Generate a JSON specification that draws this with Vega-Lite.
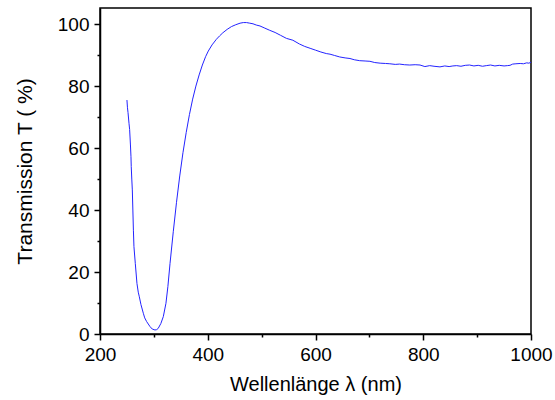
{
  "$schema": "https://vega.github.io/schema/vega-lite/v6.json",
  "width": 431,
  "height": 326,
  "autosize": {"type": "none"},
  "padding": {"left": 100, "top": 8, "right": 24, "bottom": 66},
  "background": "white",
  "config": {
    "view": {"stroke": "black", "strokeWidth": 1.5},
    "font": "Liberation Sans",
    "axis": {"grid": false, "domainColor": "black", "domainWidth": 1.5, "tickColor": "black", "tickWidth": 1.5, "labelColor": "black", "titleColor": "black", "labelFont": "Liberation Sans", "titleFont": "Liberation Sans", "titleFontWeight": "normal"}
  },
  "data": {"values": [
    {"wl": 250, "T": 75.5}, {"wl": 251, "T": 73}, {"wl": 252, "T": 71.5}, {"wl": 253.8, "T": 68}, {"wl": 255, "T": 66},
    {"wl": 256.5, "T": 61}, {"wl": 257.5, "T": 57.2}, {"wl": 258, "T": 54}, {"wl": 259, "T": 50}, {"wl": 260, "T": 46.5},
    {"wl": 261, "T": 40}, {"wl": 262, "T": 33.5}, {"wl": 263, "T": 28.2}, {"wl": 265.5, "T": 22.8}, {"wl": 268.6, "T": 16.3},
    {"wl": 271, "T": 13.5}, {"wl": 273, "T": 12}, {"wl": 276, "T": 9.5}, {"wl": 280.4, "T": 6.7}, {"wl": 283, "T": 5.2},
    {"wl": 286.6, "T": 4}, {"wl": 292.8, "T": 2.4}, {"wl": 297, "T": 1.6}, {"wl": 302, "T": 1.3}, {"wl": 305, "T": 1.4},
    {"wl": 308, "T": 1.8}, {"wl": 313, "T": 3.4}, {"wl": 317.5, "T": 5.6}, {"wl": 322.4, "T": 9.9}, {"wl": 326, "T": 15.3},
    {"wl": 330, "T": 22.8}, {"wl": 336, "T": 33}, {"wl": 342, "T": 42.5}, {"wl": 348, "T": 51}, {"wl": 354, "T": 58.5},
    {"wl": 360, "T": 65}, {"wl": 366, "T": 70.8}, {"wl": 372, "T": 75.8}, {"wl": 378, "T": 80}, {"wl": 384, "T": 83.6},
    {"wl": 390, "T": 86.8}, {"wl": 396, "T": 89.5}, {"wl": 401, "T": 91.3},
    {"wl": 408, "T": 93.3}, {"wl": 416, "T": 95.1}, {"wl": 422, "T": 96.2}, {"wl": 428, "T": 97.2}, {"wl": 436, "T": 98.3},
    {"wl": 444, "T": 99.2}, {"wl": 452, "T": 99.8}, {"wl": 460, "T": 100.3}, {"wl": 466, "T": 100.5}, {"wl": 472, "T": 100.5},
    {"wl": 478, "T": 100.3}, {"wl": 484, "T": 100.1}, {"wl": 490, "T": 99.7}, {"wl": 497, "T": 99.4}, {"wl": 506, "T": 98.7},
    {"wl": 515, "T": 98}, {"wl": 525, "T": 97.3}, {"wl": 535, "T": 96.4}, {"wl": 546, "T": 95.4}, {"wl": 558, "T": 94.8},
    {"wl": 570, "T": 93.6}, {"wl": 580, "T": 92.8}, {"wl": 590, "T": 92.2}, {"wl": 600, "T": 91.6}, {"wl": 610, "T": 91.0},
    {"wl": 620, "T": 90.5}, {"wl": 627, "T": 90.3}, {"wl": 635, "T": 89.9}, {"wl": 645, "T": 89.4}, {"wl": 655, "T": 89.1},
    {"wl": 664, "T": 88.9}, {"wl": 672, "T": 88.5}, {"wl": 682, "T": 88.2}, {"wl": 692, "T": 88.1}, {"wl": 701, "T": 88.0},
    {"wl": 710, "T": 87.6}, {"wl": 720, "T": 87.4}, {"wl": 730, "T": 87.3}, {"wl": 738, "T": 87.2}, {"wl": 748, "T": 87.0},
    {"wl": 756, "T": 87.1}, {"wl": 765, "T": 86.9}, {"wl": 775, "T": 86.8}, {"wl": 785, "T": 86.9}, {"wl": 794, "T": 86.8},
    {"wl": 803, "T": 86.3}, {"wl": 812, "T": 86.6}, {"wl": 820, "T": 86.4}, {"wl": 831, "T": 86.2}, {"wl": 840, "T": 86.5},
    {"wl": 848, "T": 86.3}, {"wl": 855, "T": 86.5}, {"wl": 862, "T": 86.6}, {"wl": 870, "T": 86.4}, {"wl": 878, "T": 86.7},
    {"wl": 886, "T": 86.8}, {"wl": 894, "T": 86.5}, {"wl": 902, "T": 86.7}, {"wl": 910, "T": 86.4}, {"wl": 917, "T": 86.6},
    {"wl": 925, "T": 86.8}, {"wl": 933, "T": 86.5}, {"wl": 941, "T": 86.7}, {"wl": 950, "T": 86.5}, {"wl": 956, "T": 86.6},
    {"wl": 961, "T": 86.7}, {"wl": 966, "T": 87.1}, {"wl": 972, "T": 87.2}, {"wl": 980, "T": 87.3}, {"wl": 986, "T": 87.2},
    {"wl": 992, "T": 87.5}, {"wl": 996, "T": 87.4}, {"wl": 1000, "T": 87.7}
  ]},
  "layer": [
    {
      "mark": {"type": "line", "color": "#2323ff", "strokeWidth": 1, "clip": true},
      "encoding": {
        "x": {"field": "wl", "type": "quantitative", "scale": {"domain": [200, 1000], "nice": false, "zero": false},
          "axis": {"orient": "bottom", "values": [200, 400, 600, 800, 1000], "format": "d", "tickSize": 6, "labelFontSize": 19, "labelPadding": 5, "labelFlush": false, "title": "Wellenlänge λ (nm)", "titleFontSize": 20, "titlePadding": 10}},
        "y": {"field": "T", "type": "quantitative", "scale": {"domain": [0, 105.2], "nice": false, "zero": false},
          "axis": {"orient": "left", "values": [0, 20, 40, 60, 80, 100], "format": "d", "tickSize": 6, "labelFontSize": 19, "labelPadding": 5, "labelFlush": false, "title": "Transmission T ( %)", "titleFontSize": 21, "titlePadding": 22}}
      }
    },
    {
      "mark": {"type": "line", "opacity": 0},
      "encoding": {
        "x": {"field": "wl", "type": "quantitative", "scale": {"domain": [200, 1000], "nice": false, "zero": false},
          "axis": {"orient": "bottom", "values": [300, 500, 700, 900], "tickSize": 3, "labels": false, "domain": false, "title": null}},
        "y": {"field": "T", "type": "quantitative", "scale": {"domain": [0, 105.2], "nice": false, "zero": false},
          "axis": {"orient": "left", "values": [10, 30, 50, 70, 90], "tickSize": 3, "labels": false, "domain": false, "title": null}}
      }
    }
  ],
  "resolve": {"axis": {"x": "independent", "y": "independent"}}
}
